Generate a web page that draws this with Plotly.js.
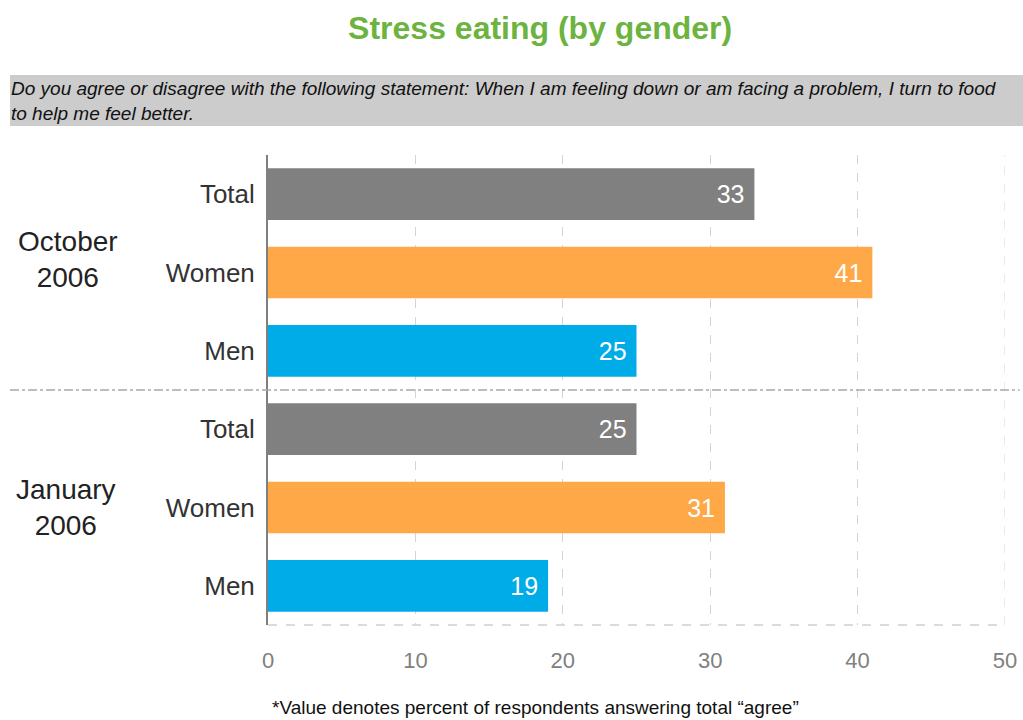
<!DOCTYPE html>
<html>
<head>
<meta charset="utf-8">
<script src="https://cdn.plot.ly/plotly-3.0.1.min.js"></script>
<style>html,body{margin:0;padding:0;background:#fff;}#chart{width:1023px;height:720px;}</style>
</head>
<body>
<div id="chart"></div>
<script>
var categories = ["Total", "Women", "Men", "Total", "Women", "Men"];
var groups = ["October<br>2006", "January<br>2006"];
var values = [33, 41, 25, 25, 31, 19];
var barColors = ["#808080", "#FFA848", "#00ACE8", "#808080", "#FFA848", "#00ACE8"];
var xTicks = [0, 10, 20, 30, 40, 50];
var positions = categories.map(function(c, i){ return i; });

var trace = {
  type: "bar",
  orientation: "h",
  x: values,
  y: positions,
  width: 0.66,
  marker: {color: barColors},
  text: values.map(function(v){ return String(v) + "\u00a0"; }),
  textposition: "inside",
  insidetextanchor: "end",
  insidetextfont: {family: "Liberation Sans, Arial, sans-serif", size: 25, color: "#ffffff"},
  textangle: 0,
  hoverinfo: "none"
};

var layout = {
  width: 1023, height: 720,
  margin: {l: 268, r: 18, t: 155, b: 95},
  paper_bgcolor: "#ffffff",
  plot_bgcolor: "#ffffff",
  showlegend: false,
  font: {family: "Liberation Sans, Arial, sans-serif"},
  title: {text: "<b>Stress eating (by gender)</b>", font: {size: 32, color: "#6DB33F", family: "Liberation Sans, Arial, sans-serif"}, x: 0.528, xanchor: "center", y: 0.962, yanchor: "middle"},
  xaxis: {
    range: [0, 50], tickvals: xTicks, ticktext: xTicks.map(String),
    showgrid: true, gridcolor: "#d4d4d4", griddash: "dash", gridwidth: 1,
    zeroline: false, showline: false, ticks: "",
    tickfont: {size: 22, color: "#808080"}, ticklabelstandoff: 20, fixedrange: true
  },
  yaxis: {
    range: [5.5, -0.5], tickvals: positions, ticktext: categories,
    showgrid: false, zeroline: false, showline: true, linecolor: "#808080", linewidth: 2,
    ticks: "", tickfont: {size: 26, color: "#333333"}, ticklabelstandoff: 6, fixedrange: true
  },
  shapes: [
    {type: "rect", xref: "paper", yref: "paper", x0: -0.35, x1: 1.03, y0: (720-95-75)/470, y1: (720-95-126)/470,
     fillcolor: "#CCCCCC", line: {width: 0}, layer: "below"},
    {type: "line", xref: "paper", yref: "paper", x0: 0, x1: 1, y0: 0, y1: 0,
     line: {color: "#d0d0d0", width: 1.5, dash: "dash"}},
    {type: "line", xref: "x", yref: "paper", x0: xTicks[xTicks.length-1], x1: xTicks[xTicks.length-1], y0: 0, y1: 1,
     line: {color: "#d4d4d4", width: 1, dash: "dash"}, layer: "below"},
    {type: "line", xref: "paper", yref: "y", x0: -0.35, x1: 1.02, y0: 2.5, y1: 2.5,
     line: {color: "#a8a8a8", width: 1.5, dash: "dashdot"}}
  ],
  annotations: [
    {xref: "paper", yref: "paper", x: -0.352, y: (720-95-101)/470, xanchor: "left", yanchor: "middle", align: "left",
     showarrow: false, text: "<i>Do you agree or disagree with the following statement: When I am feeling down or am facing a problem, I turn to food<br>to help me feel better.</i>",
     font: {size: 19, color: "#111111"}},
    {xref: "paper", yref: "y", x: (68-268)/737, y: 0.83, xanchor: "center", yanchor: "middle", showarrow: false,
     text: groups[0], font: {size: 28, color: "#222222"}},
    {xref: "paper", yref: "y", x: (66-268)/737, y: 4.0, xanchor: "center", yanchor: "middle", showarrow: false,
     text: groups[1], font: {size: 28, color: "#222222"}},
    {xref: "paper", yref: "paper", x: (535-268)/737, y: -(707-625)/470, xanchor: "center", yanchor: "middle", showarrow: false,
     text: "*Value denotes percent of respondents answering total “agree”", font: {size: 19, color: "#111111"}}
  ]
};

Plotly.newPlot("chart", [trace], layout, {displayModeBar: false, staticPlot: true});
</script>
</body>
</html>
